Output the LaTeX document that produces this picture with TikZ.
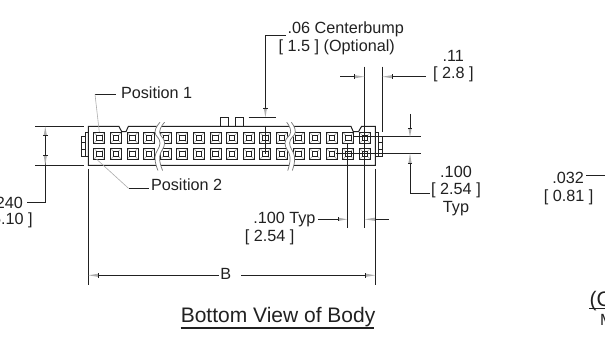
\documentclass[tikz,border=0pt]{standalone}
\usepackage{fontspec}
\setmainfont{Liberation Sans}
\definecolor{inkdark}{gray}{0.13}
\definecolor{tipgrey}{gray}{0.68}
\tikzset{
  ink/.style={draw=inkdark,line width=1pt},
  thin ink/.style={draw=inkdark,line width=0.7pt},
  lead/.style={draw=tipgrey,line width=0.6pt},
  wave/.style={draw=black!55,line width=0.7pt},
  lbl/.style={inner sep=0pt,text=inkdark,font=\fontsize{16.2}{18}\selectfont},
  head/.style={inner sep=0pt,text=inkdark,font=\fontsize{21}{24}\selectfont},
}
% tick and grey tip on a dimension line: tick, point, line
\newcommand{\htip}[3]{\fill[tipgrey] (#1,#3-1.6) -- (#2,#3) -- (#1,#3+1.6) -- cycle;
  \draw[thin ink] (#1,#3-2.2) -- (#1,#3+2.2);}
\newcommand{\vtip}[3]{\fill[tipgrey] (#3-1.6,#1) -- (#3,#2) -- (#3+1.6,#1) -- cycle;
  \draw[thin ink] (#3-2.2,#1) -- (#3+2.2,#1);}
\begin{document}
\begin{tikzpicture}[x=1pt,y=-1pt]
\def\waveL{plot[smooth,tension=.8] coordinates {(160,122.3) (155,132) (160,143) (155,157) (158,170.5)}}
\def\waveR{plot[smooth,tension=.8] coordinates {(286.7,122.3) (290.7,132) (285,143) (290,157) (287.7,170.5)}}
    \clip (0,0) rectangle (605,339);
    \fill[white] (0,0) rectangle (605,339);
    % body
    \draw[ink] (88.3,126.5) -- (119,126.5) -- (121.7,131.7) -- (126,131.7) -- (128.3,126.5)
      -- (351,126.5) -- (353.3,131.7) -- (358.5,131.7) -- (361.5,126.5) -- (375.4,126.5)
      -- (375.4,165.3) -- (88.3,165.3) -- cycle;
    \draw[ink] (88.3,133) -- (85,133) -- (85,157) -- (88.3,157);
    \draw[thin ink] (85,136) -- (81,136) -- (81,156) -- (85,156) (81,142.7) -- (85,142.7) (81,149.3) -- (85,149.3);
    \draw[ink] (375.4,133) -- (378.7,133) -- (378.7,157) -- (375.4,157);
    \draw[thin ink] (378.7,136) -- (382.7,136) -- (382.7,156) -- (378.7,156) (378.7,142.7) -- (382.7,142.7) (378.7,149.3) -- (382.7,149.3);
    \draw[ink] (220.3,126.5) -- (220.3,117.3) -- (228.8,117.3) -- (228.8,126.5);
    \draw[ink] (235.3,126.5) -- (235.3,117.3) -- (243.4,117.3) -- (243.4,126.5);
    % contacts
    \foreach \i in {0,...,16} {
      \foreach \y in {137.9,153.8} {
        \pgfmathsetmacro{\cx}{99.3+16.6*\i}
        \draw[lead] (\cx-5.5,\y-5.5) -- (\cx+5.5,\y+5.5) (\cx-5.5,\y+5.5) -- (\cx+5.5,\y-5.5);
        \fill[white] (\cx-2.7,\y-2.7) rectangle (\cx+2.7,\y+2.7);
        \draw[ink] (\cx-5.5,\y-5.5) rectangle (\cx+5.5,\y+5.5);
        \draw[thin ink] (\cx-2.7,\y-2.7) rectangle (\cx+2.7,\y+2.7);
      }
    }
    % breaks
    \draw[white,line width=4.5pt,shift={(2.3,0)}] \waveL;
    \draw[white,line width=4.5pt,shift={(2.3,0)}] \waveR;
    \draw[wave] \waveL;
    \draw[wave,shift={(4.6,0)}] \waveL;
    \draw[wave] \waveR;
    \draw[wave,shift={(4.6,0)}] \waveR;
    % leaders with text
    \node[lbl,anchor=west] (pos1) at (120.8,92.3) {Position 1};
    \node[lbl,anchor=west] (pos2) at (150.8,184.3) {Position 2};
    \coordinate (pos1lead) at (95,94.3);
    \coordinate (pos2lead) at (128.5,188.3);
    \draw[ink] (pos1lead) -- (115.7,94.3);
    \draw[lead] (pos1lead) -- (99.3,132);
    \draw[ink] (pos2lead) -- (148.5,188.3);
    \draw[lead] (pos2lead) -- (96.7,159.3);
    \node[lbl,anchor=west] (bump) at (287.5,29.3) {.06 Centerbump};
    \node[lbl,anchor=west] (bumpmm) at (278.5,47.7) {[ 1.5 ] (Optional)};
    \coordinate (bumpcorner) at (265.4,35.3);
    \draw[ink] (285.5,35.3) -- (bumpcorner) -- (265.4,108);
    \vtip{108}{117.3}{265.4}
    \draw[ink] (248.5,117.3) -- (275.5,117.3);
    \draw[ink] (265.4,126.5) -- (265.4,154);
    % .11
    \node[lbl] (elev) at (453.3,55.7) {.11};
    \node[lbl] (elevmm) at (453.3,74) {[ 2.8 ]};
    \draw[ink] (364.6,66.7) -- (364.6,228.3);
    \draw[ink] (382.3,66.7) -- (382.3,131.7);
    \draw[ink] (340,76.7) -- (354.3,76.7);
    \htip{354.3}{364.6}{76.7}
    \draw[ink] (392.3,76.7) -- (426.3,76.7);
    \htip{392.3}{382.3}{76.7}
    % .100 on the right
    \draw[ink] (353,137) -- (420.5,137);
    \draw[ink] (335.6,153.3) -- (420.5,153.3);
    \draw[ink] (410,114) -- (410,128.3);
    \vtip{128.3}{137}{410}
    \draw[ink] (410,163.3) -- (410,193.3) -- (430,193.3);
    \vtip{163.3}{153.3}{410}
    \node[lbl] (pitch) at (456,171.7) {.100};
    \node[lbl] (pitchmm) at (456,190.7) {[ 2.54 ]};
    \node[lbl] (pitchtyp) at (456,208.7) {Typ};
    % .100 Typ
    \draw[ink] (347.2,143) -- (347.2,228.3);
    \draw[ink] (318.3,219.3) -- (338.5,219.3);
    \htip{338.5}{347.2}{219.3}
    \draw[ink] (375,219.3) -- (389,219.3);
    \htip{375}{364.6}{219.3}
    \node[lbl,anchor=east] (typ) at (315.6,219.3) {.100 Typ};
    \node[lbl,anchor=west] (typmm) at (244.6,237.7) {[ 2.54 ]};
    % B
    \draw[ink] (88.3,169) -- (88.3,285);
    \draw[ink] (375.4,169) -- (375.4,285);
    \node[lbl] (lenB) at (225.7,273.7) {B};
    \draw[ink] (98.4,275.3) -- (219,275.3);
    \htip{98.4}{88.3}{275.3}
    \draw[ink] (241,275.3) -- (365.7,275.3);
    \htip{365.7}{375.4}{275.3}
    % .240 on the left
    \draw[ink] (35,126.5) -- (84,126.5);
    \draw[ink] (35,165.3) -- (84,165.3);
    \draw[ink] (45.3,135.7) -- (45.3,202.3) -- (26.5,202.3);
    \vtip{155.3}{165.3}{45.3}
    \vtip{135.7}{126.5}{45.3}
    \node[lbl,anchor=east] (width) at (23,202.7) {.240};
    \node[lbl,anchor=east] (widthmm) at (32.8,220) {[ 6.10 ]};
    % .032
    \node[lbl,anchor=east] (pin) at (584,178) {.032};
    \node[lbl] (pinmm) at (568.7,197) {[ 0.81 ]};
    \draw[ink] (586,176) -- (605,176);
    % titles
    \node[head,anchor=west] (title) at (180.6,317) {Bottom View of Body};
    \draw[draw=inkdark,line width=1.2pt] (180.6,328) -- (373.5,328);
    \node[head,anchor=west] (title2) at (589.3,301) {(C};
    \draw[draw=inkdark,line width=1.2pt] (589.3,308.3) -- (605,308.3);
    \node[lbl,anchor=west] (note) at (600,320) {M};
\end{tikzpicture}
\end{document}
